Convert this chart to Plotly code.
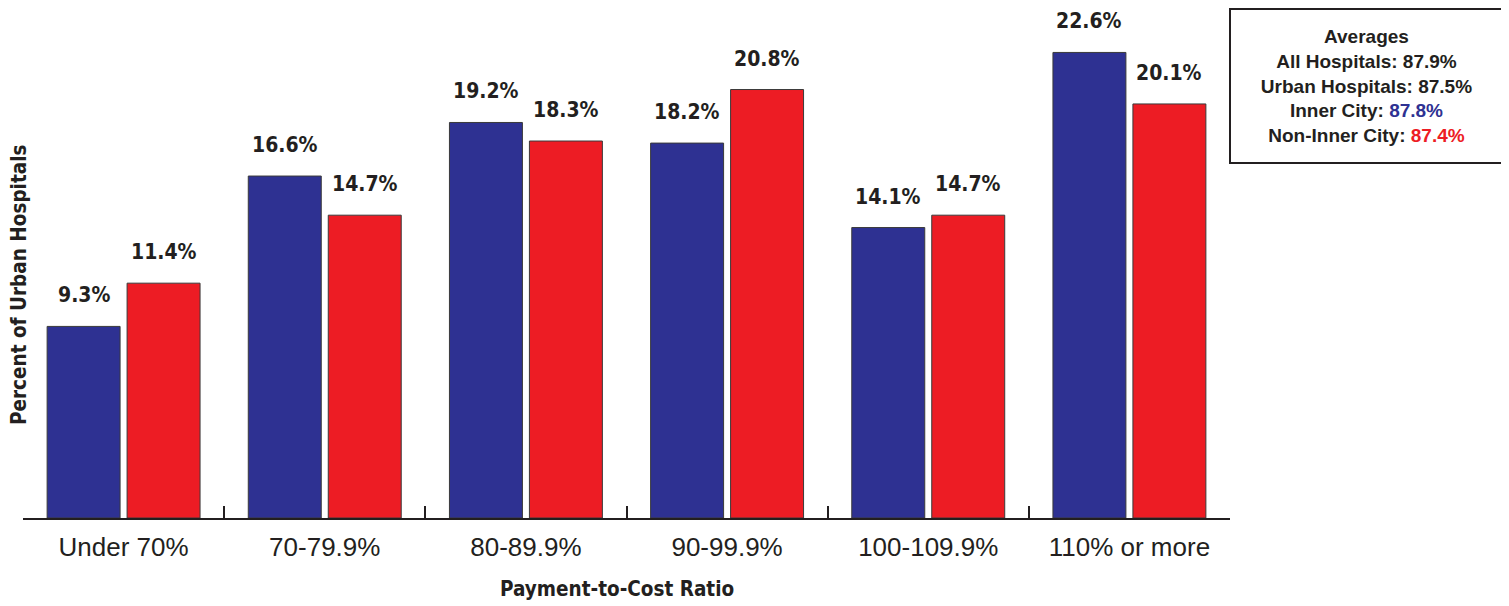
import plotly.graph_objects as go

categories = ["Under 70%", "70-79.9%", "80-89.9%", "90-99.9%", "100-109.9%", "110% or more"]
inner_city = [9.3, 16.6, 19.2, 18.2, 14.1, 22.6]
non_inner_city = [11.4, 14.7, 18.3, 20.8, 14.7, 20.1]
series_names = ["Inner City", "Non-Inner City"]
avg_all = "87.9%"
avg_urban = "87.5%"
avg_inner = "87.8%"
avg_non_inner = "87.4%"

BLUE = "#2E3192"
RED = "#ED1C24"
TXT = "#231F20"
BOLD_NARROW = "DejaVu Sans Condensed, Liberation Sans Narrow, sans-serif"
REG = "Liberation Sans, Arial, sans-serif"

# page body has an 8px default margin; compensate so the chart lands where the reference has it
OFF = 8
W, H = 1509 - OFF, 606 - OFF
ML, MR, MT, MB = 23 - OFF, 279, 10 - OFF, 88
plot_w = W - ML - MR
plot_h = H - MT - MB
px_per_unit = 20.6
ymax = plot_h / px_per_unit


def px_x(x):
    return (x - OFF - ML) / plot_w


def px_y(y):
    return (H - MB - (y - OFF)) / plot_h


fig = go.Figure()
for name, vals, col in [(series_names[0], inner_city, BLUE), (series_names[1], non_inner_city, RED)]:
    fig.add_trace(go.Bar(
        x=categories, y=vals, name=name,
        marker=dict(color=col, line=dict(color="#3a3a3a", width=1)),
        showlegend=False,
    ))

annotations = []
for vals, shift in [(inner_city, -40), (non_inner_city, 40)]:
    for c, v in zip(categories, vals):
        annotations.append(dict(
            x=c, y=v, xref="x", yref="y", text=f"<b>{v:.1f}%</b>", showarrow=False,
            xshift=shift, yshift=17, yanchor="bottom",
            font=dict(family=BOLD_NARROW, size=21, color=TXT),
        ))

# axis titles
annotations.append(dict(
    xref="paper", yref="paper", x=px_x(19.5), y=px_y(285.5),
    text="<b>Percent of Urban Hospitals</b>", textangle=-90, showarrow=False,
    xanchor="center", yanchor="middle",
    font=dict(family=BOLD_NARROW, size=20.5, color=TXT),
))
annotations.append(dict(
    xref="paper", yref="paper", x=px_x(617), y=px_y(589),
    text="<b>Payment-to-Cost Ratio</b>", showarrow=False,
    xanchor="center", yanchor="middle",
    font=dict(family=BOLD_NARROW, size=20.5, color=TXT),
))

# averages box
box_text = (
    "<b>Averages</b><br>"
    f"<b>All Hospitals: {avg_all}</b><br>"
    f"<b>Urban Hospitals: {avg_urban}</b><br>"
    f"<b>Inner City: <span style='color:{BLUE}'>{avg_inner}</span></b><br>"
    f"<b>Non-Inner City: <span style='color:{RED}'>{avg_non_inner}</span></b>"
)
annotations.append(dict(
    xref="paper", yref="paper", x=px_x(1366.5), y=px_y(86),
    text=box_text, showarrow=False, xanchor="center", yanchor="middle", align="center",
    width=267, height=148, borderpad=2, bordercolor="#231F20", borderwidth=2,
    bgcolor="white",
    font=dict(family=REG, size=19, color=TXT),
))

fig.update_layout(
    width=W, height=H,
    margin=dict(l=ML, r=MR, t=MT, b=MB),
    paper_bgcolor="white", plot_bgcolor="white",
    barmode="group", bargap=0.205, bargroupgap=0.0875,
    annotations=annotations,
    xaxis=dict(
        type="category", range=[-0.5, 5.5],
        showline=True, linecolor=TXT, linewidth=2,
        ticks="inside", tickson="boundaries", ticklen=12, tickwidth=2, tickcolor=TXT,
        tickfont=dict(family=REG, size=26, color=TXT),
        ticklabelstandoff=5,
        showgrid=False, zeroline=False,
    ),
    yaxis=dict(
        range=[0, ymax], visible=False, showgrid=False, zeroline=False,
    ),
)

fig.write_html("out.html")
